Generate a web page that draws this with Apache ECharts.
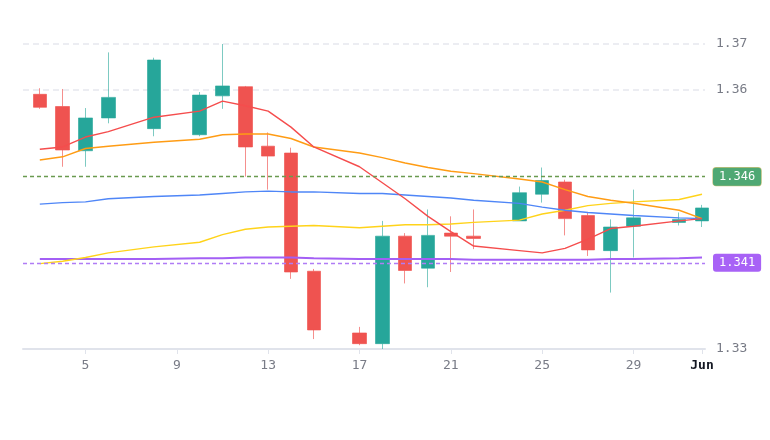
<!DOCTYPE html>
<html><head><meta charset="utf-8">
<script src="https://cdn.jsdelivr.net/npm/echarts@6/dist/echarts.min.js"></script>
<style>html,body{margin:0;padding:0;background:#fff}#c{width:770px;height:440px}</style>
</head><body><div id="c"></div>
<script>
const dates = ['2021-05-03','2021-05-04','2021-05-05','2021-05-06','2021-05-08','2021-05-10','2021-05-11','2021-05-12','2021-05-13','2021-05-14','2021-05-15','2021-05-17','2021-05-18','2021-05-19','2021-05-20','2021-05-21','2021-05-22','2021-05-24','2021-05-25','2021-05-26','2021-05-27','2021-05-28','2021-05-29','2021-05-31','2021-06-01'];
const opens  = [1.3634,1.3618,1.3560,1.3603,1.3589,1.3581,1.3632,1.3644,1.3566,1.3557,1.3402,1.3321,1.3307,1.3448,1.3406,1.3452,1.3448,1.3468,1.3503,1.3519,1.3475,1.3429,1.3461,1.3466,1.3468];
const closes = [1.3617,1.3561,1.3603,1.3630,1.3679,1.3633,1.3645,1.3565,1.3553,1.3401,1.3325,1.3307,1.3448,1.3403,1.3449,1.3448,1.3445,1.3505,1.3521,1.3471,1.3430,1.3460,1.3472,1.3470,1.3485];
const lows   = [1.3615,1.3539,1.3539,1.3596,1.3579,1.3579,1.3615,1.3526,1.3509,1.3392,1.3313,1.3305,1.3300,1.3386,1.3381,1.3401,1.3431,1.3468,1.3492,1.3449,1.3422,1.3374,1.3420,1.3462,1.3460];
const highs  = [1.3642,1.3641,1.3616,1.3689,1.3682,1.3637,1.3700,1.3645,1.3584,1.3564,1.3405,1.3329,1.3468,1.3452,1.3483,1.3474,1.3483,1.3513,1.3538,1.3522,1.3479,1.3470,1.3509,1.3479,1.3489];

const maRed    = [1.3562,1.3565,1.3578,1.3585,1.3604,1.3612,1.3625,1.3619,1.3612,1.3591,1.3565,1.3539,1.3518,1.3497,1.3474,1.3454,1.3435,1.3429,1.3426,1.3432,1.3444,1.3458,1.3461,1.3468,1.3471];
const maOrange = [1.3548,1.3552,1.3563,1.3566,1.3571,1.3575,1.3581,1.3582,1.3582,1.3576,1.3565,1.3557,1.3551,1.3544,1.3538,1.3533,1.3530,1.3523,1.3519,1.3509,1.3500,1.3495,1.3491,1.3482,1.3471];
const maBlue   = [1.3490,1.3492,1.3493,1.3497,1.3500,1.3502,1.3504,1.3506,1.3507,1.3506,1.3506,1.3504,1.3504,1.3502,1.3500,1.3498,1.3495,1.3491,1.3486,1.3482,1.3479,1.3477,1.3475,1.3472,1.3471];
const maYellow = [1.3412,1.3415,1.3420,1.3426,1.3434,1.3440,1.3450,1.3457,1.3460,1.3461,1.3462,1.3459,1.3461,1.3463,1.3463,1.3464,1.3466,1.3469,1.3477,1.3482,1.3488,1.3491,1.3493,1.3496,1.3503];
const maPurple = [1.3418,1.3418,1.3418,1.3418,1.3418,1.3419,1.3419,1.3420,1.3420,1.3420,1.3419,1.3418,1.3418,1.3418,1.3418,1.3418,1.3417,1.3417,1.3417,1.3417,1.3417,1.3418,1.3418,1.3419,1.3420];

const xTickDates = ['2021-05-05','2021-05-09','2021-05-13','2021-05-17','2021-05-21','2021-05-25','2021-05-29','2021-06-01'];
const yTickValues = [1.33, 1.364, 1.37];
const levelValues = [1.3526, 1.3413];
const levelLabels = ['1.346', '1.341'];
const monthNames = ['Jan','Feb','Mar','Apr','May','Jun','Jul','Aug','Sep','Oct','Nov','Dec'];

// x positions: day number counted from 2021-05-01 = 1 (so 2021-06-01 = 32)
const ORIGIN = new Date(2021, 4, 1).getTime();
const DAY = 86400000;
function dayNum(s){ const p = s.split('-').map(Number); return Math.round((new Date(p[0], p[1]-1, p[2]).getTime() - ORIGIN) / DAY) + 1; }
function dayLabel(n){ const d = new Date(ORIGIN + (n-1)*DAY); return d.getDate() === 1 ? '{b|' + monthNames[d.getMonth()] + '}' : String(d.getDate()); }
const xs = dates.map(dayNum);
const candleData = xs.map((x,i)=>[x, opens[i], closes[i], lows[i], highs[i]]);
const lineData = arr => xs.map((x,i)=>[x, arr[i]]);
const font = 'DejaVu Sans Mono';

function maSeries(arr, color, width){
  return { type:'line', data: lineData(arr), symbol:'none', silent:true,
    lineStyle:{ color: color, width: width||1.4 }, z: 3 };
}

const chart = echarts.init(document.getElementById('c'), null, {renderer:'canvas'});
chart.setOption({
  animation:false,
  backgroundColor:'#ffffff',
  grid:{ left:23, right:65, top:44, bottom:91, containLabel:false },
  xAxis:{
    type:'value',
    min: xs[0] - 0.736,
    max: xs[xs.length-1] + 0.13,
    axisLine:{ show:true, lineStyle:{ color:'#e0e3eb', width:2 } },
    axisTick:{ show:true, length:5, lineStyle:{ color:'#e0e3eb' }, customValues: xTickDates.map(dayNum) },
    splitLine:{ show:false },
    axisLabel:{
      customValues: xTickDates.map(dayNum),
      color:'#787b86', fontFamily:font, fontSize:13, margin:10,
      formatter: dayLabel,
      rich:{ b:{ fontWeight:'bold', color:'#131722', fontFamily:font, fontSize:13 } }
    }
  },
  yAxis:{
    type:'value', position:'right', min:1.33, max:1.37,
    axisLine:{ show:false },
    axisTick:{ show:false, customValues: yTickValues },
    splitLine:{ show:true, lineStyle:{ color:'#e6e8ee', type:[6,4], width:1.5 } },
    axisLabel:{ customValues: yTickValues, color:'#787b86', fontFamily:font, fontSize:13, margin:11,
      formatter: v => v.toFixed(2) }
  },
  series:[
    {
      type:'candlestick', data: candleData, barWidth:14, z:2,
      itemStyle:{ color:'#26a69a', color0:'#ef5350', borderColor:'rgba(38,166,154,0.6)', borderColor0:'rgba(239,83,80,0.65)', borderWidth:1 },
      markLine:{
        silent:true, symbol:['none','none'], animation:false, precision:4,
        data: [
          { yAxis: levelValues[0], name: levelLabels[0],
            lineStyle:{ color:'#6a9a4f', type:[4,3], width:1.3 },
            label:{ backgroundColor:'#4fa873', borderColor:'#c9c27a', borderWidth:0.6 } },
          { yAxis: levelValues[1], name: levelLabels[1],
            lineStyle:{ color:'#b07cf5', type:[4,3], width:1.3 },
            label:{ backgroundColor:'#a862f6' } }
        ],
        label:{ show:true, position:'end', formatter:'{b}', color:'#ffffff', fontFamily:font, fontSize:12,
          padding:[3,6,3,6], borderRadius:3, distance:8 }
      }
    },
    maSeries(maPurple, '#a35ff5', 2),
    maSeries(maYellow, '#ffd31a', 1.4),
    maSeries(maBlue, '#4f86f7', 1.4),
    maSeries(maOrange, '#ff9c14', 1.5),
    maSeries(maRed, '#f54d4d', 1.4)
  ]
});
</script></body></html>
